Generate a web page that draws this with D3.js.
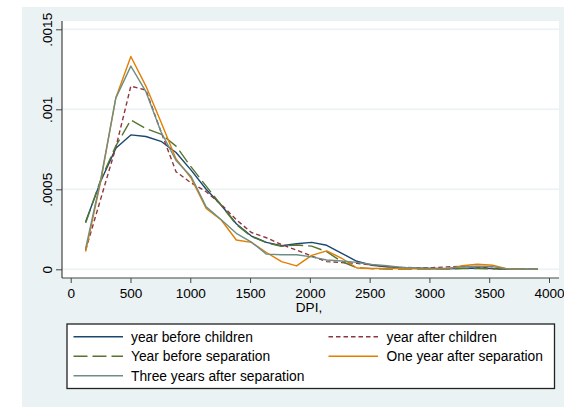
<!DOCTYPE html>
<html>
<head>
<meta charset="utf-8">
<script src="https://cdn.jsdelivr.net/npm/d3@7"></script>
<style>
  html, body { margin: 0; padding: 0; background: #ffffff; }
  svg { display: block; }
  text { font-family: "Liberation Sans", Arial, Helvetica, sans-serif; fill: #000; }
</style>
</head>
<body>
<svg id="chart" width="564" height="410"></svg>
<script>
// Disposable personal income (DPI) grid points
const dpi = [125, 251, 377, 503, 629, 755, 881, 1007, 1133, 1259, 1385, 1511, 1637, 1763, 1889,
             2015, 2141, 2267, 2393, 2519, 2645, 2771, 2897, 3023, 3149, 3275, 3401, 3527, 3653, 3779, 3905];

// Density estimates for each period
const yearBeforeChildren = [2.97e-4, 5.5e-4, 7.56e-4, 8.4e-4, 8.3e-4, 8.0e-4, 7.3e-4, 6.2e-4, 5.0e-4, 4.0e-4,
  2.85e-4, 2.08e-4, 1.68e-4, 1.47e-4, 1.6e-4, 1.68e-4, 1.5e-4, 1.0e-4, 0.5e-4, 0.25e-4,
  0.15e-4, 0.1e-4, 0.07e-4, 0.05e-4, 0.03e-4, 0.06e-4, 0.08e-4, 0.05e-4, 0.01e-4, 0, 0];
const yearAfterChildren = [1.2e-4, 4.4e-4, 7.6e-4, 11.45e-4, 11.2e-4, 8.6e-4, 6.1e-4, 5.4e-4, 4.85e-4, 4.05e-4,
  3.1e-4, 2.3e-4, 1.97e-4, 1.55e-4, 1.2e-4, 0.83e-4, 0.48e-4, 0.42e-4, 0.37e-4, 0.27e-4,
  0.17e-4, 0.12e-4, 0.1e-4, 0.1e-4, 0.15e-4, 0.18e-4, 0.15e-4, 0.05e-4, 0.01e-4, 0, 0];
const yearBeforeSeparation = [2.9e-4, 5.6e-4, 7.7e-4, 9.33e-4, 8.8e-4, 8.45e-4, 7.7e-4, 6.4e-4, 5.2e-4, 4.0e-4,
  2.8e-4, 2.05e-4, 1.66e-4, 1.44e-4, 1.52e-4, 1.45e-4, 1.1e-4, 0.48e-4, 0.1e-4, 0.04e-4,
  0.02e-4, 0.01e-4, 0.01e-4, 0.01e-4, 0.02e-4, 0.05e-4, 0.05e-4, 0.03e-4, 0.01e-4, 0, 0];
const oneYearAfterSeparation = [1.1e-4, 5.5e-4, 10.7e-4, 13.3e-4, 11.45e-4, 9.2e-4, 6.9e-4, 5.7e-4, 3.8e-4, 3.08e-4,
  1.83e-4, 1.68e-4, 1.05e-4, 0.48e-4, 0.21e-4, 0.87e-4, 1.15e-4, 0.69e-4, 0.08e-4, 0.05e-4,
  0.06e-4, 0.05e-4, 0.03e-4, 0.02e-4, 0.03e-4, 0.22e-4, 0.32e-4, 0.25e-4, 0.03e-4, 0, 0];
const threeYearsAfterSeparation = [1.3e-4, 5.6e-4, 10.7e-4, 12.7e-4, 11.1e-4, 8.6e-4, 6.8e-4, 5.8e-4, 3.9e-4, 3.1e-4,
  2.25e-4, 1.7e-4, 0.95e-4, 0.91e-4, 0.91e-4, 0.78e-4, 0.58e-4, 0.52e-4, 0.43e-4, 0.3e-4,
  0.22e-4, 0.12e-4, 0.08e-4, 0.05e-4, 0.06e-4, 0.15e-4, 0.2e-4, 0.17e-4, 0.03e-4, 0, 0];

const seriesNames = ["year before children", "year after children", "Year before separation",
                     "One year after separation", "Three years after separation"];

// Axis ticks
const xTickValues = [0, 500, 1000, 1500, 2000, 2500, 3000, 3500, 4000];
const xTickLabels = ["0", "500", "1000", "1500", "2000", "2500", "3000", "3500", "4000"];
const yTickValues = [0, 0.0005, 0.001, 0.0015];
const yTickLabels = ["0", ".0005", ".001", ".0015"];
const xTitle = "DPI,";

// Line styles
const styles = [
  { color: "#1a476f", dash: null },
  { color: "#90353b", dash: "4.5,3" },
  { color: "#55752f", dash: "14,5" },
  { color: "#e37e00", dash: null },
  { color: "#6e8e84", dash: null }
];
const seriesValues = [yearBeforeChildren, yearAfterChildren, yearBeforeSeparation,
                      oneYearAfterSeparation, threeYearsAfterSeparation];

const svg = d3.select("#chart");

// Graph region and plot region
svg.append("rect").attr("x", 22).attr("y", 7).attr("width", 542).attr("height", 400).attr("fill", "#eaf2f3");
const plot = { left: 62, top: 21, right: 559, bottom: 278 };
svg.append("rect").attr("x", plot.left).attr("y", plot.top)
  .attr("width", plot.right - plot.left).attr("height", plot.bottom - plot.top).attr("fill", "#ffffff");

const x = d3.scaleLinear().domain([0, 4000]).range([70.7, 549]);
const y = d3.scaleLinear().domain([0, 0.0015]).range([269.3, 29.3]);

// Gridlines
svg.append("g").selectAll("line").data(yTickValues).join("line")
  .attr("x1", plot.left).attr("x2", plot.right)
  .attr("y1", d => y(d)).attr("y2", d => y(d))
  .attr("stroke", "#eaf2f3").attr("stroke-width", 1.4);

// Series lines
const line = d3.line().x((d, i) => x(dpi[i])).y(d => y(d));
const lines = svg.append("g");
seriesValues.forEach((vals, k) => {
  lines.append("path").datum(vals)
    .attr("d", line)
    .attr("fill", "none")
    .attr("stroke", styles[k].color)
    .attr("stroke-width", 1.4)
    .attr("stroke-linejoin", "round")
    .attr("stroke-dasharray", styles[k].dash);
});

// X axis
const xAxis = d3.axisBottom(x).tickValues(xTickValues).tickSize(5).tickPadding(5)
  .tickFormat((d, i) => xTickLabels[i]);
const gx = svg.append("g").attr("transform", `translate(0,${plot.bottom})`).call(xAxis);
gx.select(".domain").remove();
gx.selectAll(".tick line").attr("stroke", "#444").attr("stroke-width", 1);
gx.selectAll(".tick text").attr("font-size", 13.6).attr("fill", "#000")
  .attr("font-family", "'Liberation Sans', Arial, sans-serif");
svg.append("line").attr("x1", plot.left).attr("x2", plot.right)
  .attr("y1", plot.bottom).attr("y2", plot.bottom).attr("stroke", "#444").attr("stroke-width", 1.2);

// Y axis
const yAxis = d3.axisLeft(y).tickValues(yTickValues).tickSize(6).tickFormat((d, i) => yTickLabels[i]);
const gy = svg.append("g").attr("transform", `translate(${plot.left},0)`).call(yAxis);
gy.select(".domain").remove();
gy.selectAll(".tick line").attr("stroke", "#444").attr("stroke-width", 1);
gy.selectAll(".tick text")
  .attr("font-size", 13.6).attr("fill", "#000")
  .attr("font-family", "'Liberation Sans', Arial, sans-serif")
  .attr("x", null).attr("dy", null)
  .attr("text-anchor", "middle")
  .attr("transform", "translate(-10.5,0) rotate(-90)");
svg.append("line").attr("x1", plot.left).attr("x2", plot.left)
  .attr("y1", plot.top).attr("y2", plot.bottom).attr("stroke", "#444").attr("stroke-width", 1.2);

// Axis title
svg.append("text").attr("x", 309).attr("y", 312).attr("text-anchor", "middle")
  .attr("font-size", 13.6).text(xTitle);

// Legend
const legend = svg.append("g");
legend.append("rect").attr("x", 67).attr("y", 324).attr("width", 487.5).attr("height", 64.5)
  .attr("fill", "#ffffff").attr("stroke", "#222").attr("stroke-width", 1.3);
const cols = [{ lx: 73.5, tx: 131 }, { lx: 328.5, tx: 386.5 }];
const rowY = [336.7, 356.2, 375.7];
seriesNames.forEach((name, k) => {
  const c = cols[k % 2], r = rowY[Math.floor(k / 2)];
  legend.append("line").attr("x1", c.lx).attr("x2", c.lx + 49.5).attr("y1", r).attr("y2", r)
    .attr("stroke", styles[k].color).attr("stroke-width", 1.4)
    .attr("stroke-dasharray", styles[k].dash);
  legend.append("text").attr("x", c.tx).attr("y", r + 5).attr("font-size", 13.8).text(name);
});
</script>
</body>
</html>
